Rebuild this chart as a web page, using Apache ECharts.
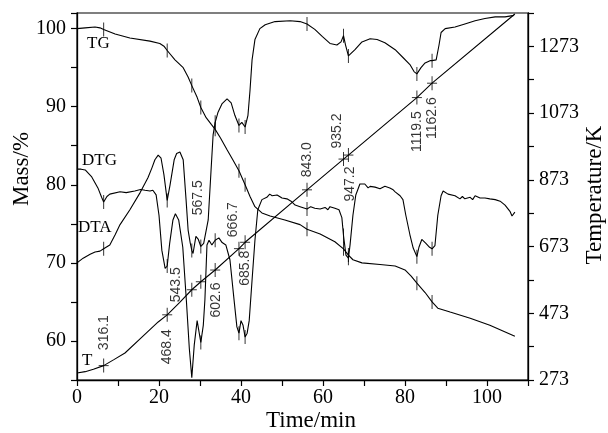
<!DOCTYPE html>
<html>
<head>
<meta charset="utf-8">
<script src="https://cdn.jsdelivr.net/npm/echarts@6/dist/echarts.min.js"></script>
<style>
  html, body { margin: 0; padding: 0; background: #fff; }
  #chart { width: 608px; height: 433px; }
</style>
</head>
<body>
<div id="chart"></div>
<script>
const tg = [[0,100.0],[2,100.1],[4.4,100.2],[5.6,100.1],[6.5,99.9],[9.3,99.3],[12.9,98.8],[17.8,98.4],[20.2,98.1],[21.3,97.7],[22,97.2],[23.9,96.0],[25.9,95.0],[27.1,93.8],[28,92.7],[29.3,91.2],[30.2,89.9],[31.5,88.6],[32.8,87.7],[33.7,87.1],[35,86.0],[36.6,84.5],[38,83.2],[39.5,81.8],[41,80.0],[42.2,78.5],[43.4,77.2],[45.1,76.4],[47.1,76.0],[50.7,75.5],[54.4,74.9],[56.1,74.3],[59.3,73.7],[62.9,72.7],[65,71.8],[66.2,71.0],[67.3,70.4],[69.5,70.0],[73.9,69.8],[77.6,69.6],[80,69.1],[81.5,68.3],[82.9,67.4],[84.9,66.2],[86.6,65.0],[88,64.2],[91,63.7],[95.9,62.9],[100.7,62.0],[106.8,60.6]];

const dtg = [[0,82.0],[1,82.0],[2,81.9],[3.6,81.0],[5.1,79.6],[6,78.4],[6.5,77.8],[7.3,78.5],[8,78.8],[10.5,79.1],[12,79.0],[14.1,79.2],[15.5,79.4],[16.6,79.3],[17.8,79.2],[18.5,79.3],[19.3,78.7],[20,76.1],[20.7,71.6],[21.5,69.3],[22,69.6],[22.6,72.5],[23.4,75.5],[24,76.3],[24.8,75.5],[25.8,72],[26.7,65],[27.4,59],[28,55.3],[28.6,59.5],[29.3,62.6],[30.2,59.8],[30.8,62],[31.2,65.3],[31.7,72.3],[32.2,72.9],[32.9,72.3],[33.7,72.9],[34.6,73.2],[35.4,72.6],[36.3,72.3],[37.3,70.4],[38.3,65.3],[39,61.8],[39.5,61.0],[40,62.6],[40.5,62.0],[41,60.5],[41.5,61],[42,62.6],[42.7,67.8],[43.4,72.9],[44.1,76.8],[45.1,78.1],[46.3,78.4],[47,78.8],[47.6,78.6],[48.8,78.7],[50,78.3],[51.2,78.2],[52.2,77.9],[53.2,77.4],[54.4,77.2],[56.1,76.9],[57,77.2],[58,77.0],[59.3,76.9],[60.5,77.1],[61.2,76.8],[61.7,77.2],[62.9,77.0],[63.9,76.8],[64.6,75.8],[65,73.5],[65.6,71.0],[66.2,70.6],[66.6,72.3],[67.3,76.1],[68,78.7],[69,80.1],[70.2,80.1],[71,79.6],[71.5,79.8],[72.7,79.7],[73.9,79.5],[75.1,79.8],[76.3,79.6],[77,79.4],[77.6,79.1],[78.8,78.6],[79.5,78.1],[80.2,76.1],[81.2,73.6],[82,71.9],[82.9,70.8],[83.4,72.0],[84.1,73.0],[85.1,72.5],[86,72.0],[86.6,71.8],[87.3,72.2],[88,76.1],[88.8,78.6],[89.3,79.2],[90.5,78.8],[92.2,78.6],[93.4,78.2],[94,78.5],[94.6,78.2],[95.9,78.4],[96.5,78.1],[97.1,78.6],[98.3,78.3],[99.5,78.3],[100.7,78.2],[102,78.1],[103.2,77.9],[104.4,77.4],[105.6,76.6],[106.1,76.0],[106.8,76.5]];

const dta = [[0,70.0],[1.5,70.6],[3.2,71.1],[4.4,71.4],[5.6,71.5],[6.5,71.8],[8,72.3],[9.3,73.6],[10.5,74.9],[12.9,76.8],[15.4,79.0],[17.3,80.9],[18.3,82.2],[19,83.2],[19.8,83.8],[20.5,83.4],[21.2,81.3],[22,78.0],[22.7,80.0],[23.7,83.2],[24.3,84.0],[25.1,84.2],[25.9,83.2],[26.6,78.1],[27.1,74.2],[27.6,72.6],[28,71.6],[28.3,71.2],[29,73.4],[29.6,73.0],[30.2,72.1],[30.9,72.5],[32,75.5],[32.7,81.9],[33.2,86.4],[33.7,88.0],[34.4,89.3],[35.4,90.4],[36.6,91.0],[37.6,90.5],[38.5,88.9],[39.5,87.6],[40.2,88.0],[41,87.4],[41.7,88.9],[42.2,92.1],[42.7,96.0],[43.4,98.6],[44.6,100.0],[45.9,100.5],[48.3,100.9],[52,101.0],[54.4,100.9],[56.1,100.6],[58,99.9],[59.8,99.0],[61.7,98.1],[63.4,97.9],[64.4,98.3],[65,99.1],[65.5,97.9],[66.2,96.5],[66.6,96.6],[67.8,97.3],[69.5,98.3],[71.5,98.7],[73.2,98.6],[75.1,98.2],[77.6,97.3],[79.5,96.3],[81.2,95.4],[82.2,94.5],[82.9,94.2],[83.9,95.0],[84.9,95.6],[86.1,95.9],[86.6,95.9],[87.6,96.0],[88.3,97.9],[88.8,99.5],[89.8,100.0],[92.2,100.2],[94.6,100.6],[97.1,101.0],[99.5,101.3],[102,101.5],[104.4,101.5],[106.6,101.7]];

const temp = [[0,294],[2,298],[4,305],[6.5,316.1],[9,334],[11.7,354],[15.9,402],[19.8,447],[22,468.4],[25,505],[28,543.5],[30.2,567.5],[33.7,602.6],[39.5,666.7],[41,685.8],[56.1,843.0],[65,935.2],[66.2,947.2],[82.9,1119.5],[86.6,1162.6],[106.8,1370]];

// marked times and the temperatures written beside them
const markTimes = [6.5, 22, 28, 30.2, 33.7, 39.5, 41, 56.1, 65, 66.2, 82.9, 86.6];
const markTemps = ['316.1', '468.4', '543.5', '567.5', '602.6', '666.7', '685.8', '843.0', '935.2', '947.2', '1119.5', '1162.6'];
// label shift from the tick on T, in screen pixels (x right, y down)
const markShift = [[0,-33],[0,32],[-16,-5],[-3,-84],[1,30],[-6,-29],[0,26],[0,-30],[-6,-28],[2,29],[0,34],[0,35]];

const xTicks = [0, 20, 40, 60, 80, 100];
const massTicks = [60, 70, 80, 90, 100];
const tempTicks = [273, 473, 673, 873, 1073, 1273];

const serif = 'Liberation Serif';
const sans = 'Liberation Sans';

function pick(curve, lo) {
    return markTimes
        .map(t => curve.find(p => p[0] === t))
        .filter(p => p && (lo === undefined || p[1] > lo));
}

const lineStyle = {color: '#000', width: 1.1};
function curve(name, data, axis) {
    return {
        name: name, type: 'line', data: data, yAxisIndex: axis,
        symbol: 'none', lineStyle: lineStyle, silent: true, z: 2
    };
}
function ticks(data, axis, size) {
    return {
        type: 'scatter', data: data, yAxisIndex: axis, symbol: 'rect',
        symbolSize: size, itemStyle: {color: '#000'}, silent: true, z: 3
    };
}

const axisCommon = {
    axisLine: {show: true, lineStyle: {color: '#000', width: 1.3}},
    axisTick: {show: true, inside: false, length: 6, lineStyle: {color: '#000', width: 1.2}},
    splitLine: {show: false},
    axisLabel: {color: '#000', fontFamily: serif, fontSize: 20}
};

const chart = echarts.init(document.getElementById('chart'));
chart.setOption({
    animation: false,
    backgroundColor: '#fff',
    grid: {
        left: 77, right: 80, top: 13, bottom: 53,
        show: true, borderColor: '#000', borderWidth: 1.2,
        containLabel: false, outerBoundsMode: 'none'
    },
    xAxis: Object.assign({}, axisCommon, {
        type: 'value', min: 0, max: 110, interval: 10,
        axisLabel: Object.assign({}, axisCommon.axisLabel, {
            margin: 8,
            formatter: v => xTicks.indexOf(v) >= 0 ? String(v) : ''
        })
    }),
    yAxis: [
        Object.assign({}, axisCommon, {
            type: 'value', position: 'left', min: 55, max: 102, interval: 5,
            axisLabel: Object.assign({}, axisCommon.axisLabel, {
                margin: 11,
                formatter: v => massTicks.indexOf(v) >= 0 ? String(v) : ''
            })
        }),
        Object.assign({}, axisCommon, {
            type: 'value', position: 'right', min: 273, max: 1373, interval: 100,
            axisLabel: Object.assign({}, axisCommon.axisLabel, {
                margin: 11,
                formatter: v => tempTicks.indexOf(v) >= 0 ? String(v) : ''
            })
        })
    ],
    series: [
        curve('TG', tg, 0),
        curve('DTG', dtg, 0),
        curve('DTA', dta, 0),
        curve('T', temp, 1),
        ticks(pick(tg), 0, [1, 14]),
        ticks(pick(dtg, 57), 0, [1, 14]),
        ticks(pick(dta), 0, [1, 14]),
        ticks(pick(temp), 1, [1, 14]),
        ticks(pick(temp), 1, [10, 1]),
        {
            type: 'scatter', yAxisIndex: 1, symbolSize: 1, silent: true, z: 4,
            itemStyle: {color: 'rgba(0,0,0,0)'},
            data: markTimes.map((t, i) => ({
                value: [t, parseFloat(markTemps[i])],
                label: {
                    show: true, position: 'inside', rotate: 90,
                    // the offset turns with the label, so swap it back
                    offset: [-markShift[i][1], markShift[i][0]],
                    formatter: markTemps[i],
                    color: '#000', fontFamily: sans, fontSize: 14
                }
            }))
        }
    ],
    graphic: [
        {type: 'text', left: 87, top: 35, style: {text: 'TG', font: '17px "Liberation Serif"', fill: '#000'}},
        {type: 'text', left: 82, top: 152, style: {text: 'DTG', font: '17px "Liberation Serif"', fill: '#000'}},
        {type: 'text', left: 78, top: 219, style: {text: 'DTA', font: '17px "Liberation Serif"', fill: '#000'}},
        {type: 'text', left: 82, top: 352, style: {text: 'T', font: '17px "Liberation Serif"', fill: '#000'}},
        {type: 'text', x: 311, y: 421, style: {text: 'Time/min', font: '23px "Liberation Serif"', fill: '#000', align: 'center', verticalAlign: 'middle'}},
        {type: 'text', x: 22, y: 169, rotation: Math.PI / 2, style: {text: 'Mass/%', font: '23px "Liberation Serif"', fill: '#000', align: 'center', verticalAlign: 'middle'}},
        {type: 'text', x: 595, y: 195, rotation: Math.PI / 2, style: {text: 'Temperature/K', font: '23px "Liberation Serif"', fill: '#000', align: 'center', verticalAlign: 'middle'}}
    ]
});
</script>
</body>
</html>
